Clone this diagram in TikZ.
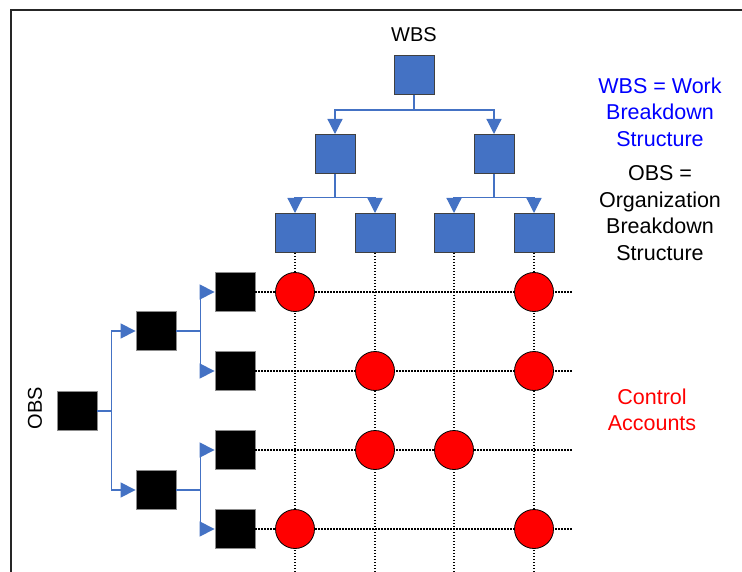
\documentclass[tikz,border=0pt]{standalone}
\usepackage{fontspec}
\setmainfont{Liberation Sans}
\usetikzlibrary{arrows.meta}
\definecolor{wbsblue}{RGB}{68,114,196}
\tikzstyle{wbox} = [draw=black!75, line width=1pt, fill=wbsblue, minimum width=40pt, minimum height=39pt, inner sep=0pt]
\tikzstyle{obox} = [draw=black!45, line width=0.8pt, fill=black, minimum width=40pt, minimum height=39pt, inner sep=0pt]
\tikzstyle{acct} = [circle, draw=black, line width=0.8pt, fill=red, minimum size=39pt, inner sep=0pt]
\tikzstyle{conn} = [draw=wbsblue, line width=1.2pt, -{Triangle[length=15pt,width=15pt]}]
\tikzstyle{gridline} = [line width=1.1pt, dash pattern=on 1.1pt off 1.9pt]
\tikzstyle{lbl} = [font=\fontsize{20}{26.5}\selectfont, align=center, inner sep=0pt]
\tikzstyle{note} = [font=\fontsize{21.5}{26.5}\selectfont, align=center, inner sep=0pt]

\begin{document}
\begin{tikzpicture}[x=1pt,y=-1pt]
    \useasboundingbox (0,0) rectangle (742,572);
    \draw[line width=1.5pt, black!85] (11,572) -- (11,10) -- (742,10);
    % WBS tree
    \node[wbox] (w0) at (414,75) {};
    \node[wbox] (w1) at (335,154) {};
    \node[wbox] (w2) at (494,154) {};
    \node[wbox] (w11) at (295,233) {};
    \node[wbox] (w12) at (375,233) {};
    \node[wbox] (w21) at (454,233) {};
    \node[wbox] (w22) at (534,233) {};
    \draw[conn] (w0.south) -- ++(0,15) -| (w1.north);
    \draw[conn] (w0.south) -- ++(0,15) -| (w2.north);
    \draw[conn] (w1.south) -- ++(0,23.5) -| (w11.north);
    \draw[conn] (w1.south) -- ++(0,23.5) -| (w12.north);
    \draw[conn] (w2.south) -- ++(0,23.5) -| (w21.north);
    \draw[conn] (w2.south) -- ++(0,23.5) -| (w22.north);
    % OBS tree
    \node[obox] (o0) at (77,411) {};
    \node[obox] (o1) at (156,331) {};
    \node[obox] (o2) at (156,490) {};
    \node[obox] (o11) at (235,292) {};
    \node[obox] (o12) at (235,371) {};
    \node[obox] (o21) at (235,450) {};
    \node[obox] (o22) at (235,529) {};
    \draw[conn] (o0.east) -- ++(14,0) |- (o1.west);
    \draw[conn] (o0.east) -- ++(14,0) |- (o2.west);
    \draw[conn] (o1.east) -- ++(24,0) |- (o11.west);
    \draw[conn] (o1.east) -- ++(24,0) |- (o12.west);
    \draw[conn] (o2.east) -- ++(24,0) |- (o21.west);
    \draw[conn] (o2.east) -- ++(24,0) |- (o22.west);
    % matrix lines
    \foreach \w in {w11,w12,w21,w22}
      \draw[gridline] (\w.south) -- (\w.south |- 0,572);
    \foreach \o in {o11,o12,o21,o22}
      \draw[gridline] (\o.east) -- (\o.east -| 573,0);
    % control accounts
    \node[acct] (c11) at (w11 |- o11) {};
    \node[acct] (c14) at (w22 |- o11) {};
    \node[acct] (c22) at (w12 |- o12) {};
    \node[acct] (c24) at (w22 |- o12) {};
    \node[acct] (c32) at (w12 |- o21) {};
    \node[acct] (c33) at (w21 |- o21) {};
    \node[acct] (c41) at (w11 |- o22) {};
    \node[acct] (c44) at (w22 |- o22) {};
    % labels
    \node[lbl, anchor=base] (wbslab) at (414,42) {WBS};
    \node[lbl, rotate=90] (obslab) at (35,408) {OBS};
    \node[note, blue, anchor=north] (wbsdef) at (660,77.5) {WBS = Work\\Breakdown\\Structure};
    \node[note, anchor=north] (obsdef) at (660,165.5) {OBS =\\Organization\\Breakdown\\Structure};
    \node[note, red, anchor=north] (calab) at (652,388.5) {Control\\Accounts};
\end{tikzpicture}
\end{document}
